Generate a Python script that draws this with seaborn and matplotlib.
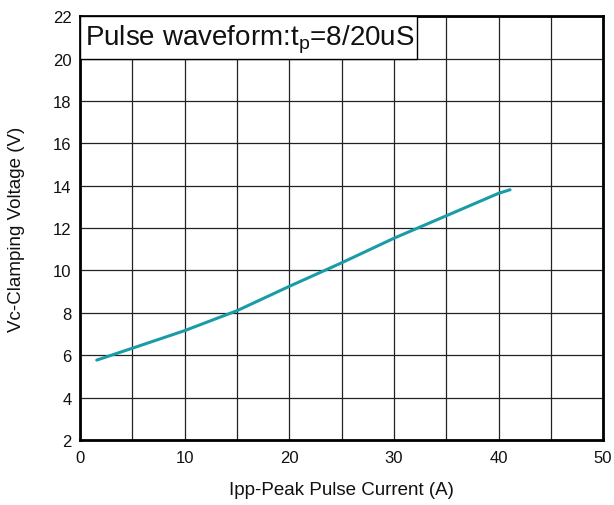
import matplotlib
matplotlib.use("Agg")
import matplotlib.pyplot as plt
from matplotlib.patches import Rectangle
import seaborn as sns
import pandas as pd

ipp = [1.6, 5, 10, 15, 20, 25, 30, 35, 40, 41.1]
vc = [5.77, 6.33, 7.16, 8.10, 9.25, 10.36, 11.52, 12.58, 13.64, 13.81]

x_ticks = [0, 10, 20, 30, 40, 50]
y_ticks = [2, 4, 6, 8, 10, 12, 14, 16, 18, 20, 22]

sns.set_style("white")
plt.rcParams['font.family'] = ['Liberation Sans', 'DejaVu Sans']

df = pd.DataFrame({"Ipp": ipp, "Vc": vc})

fig = plt.figure(figsize=(6.14, 5.06), dpi=100)
ax = fig.add_axes([0.1303, 0.1285, 0.852, 0.8375])

sns.lineplot(data=df, x="Ipp", y="Vc", color="#1a9ca8", linewidth=2.2, ax=ax, zorder=3)

ax.set_xlim(0, 50)
ax.set_ylim(2, 22)
ax.set_xticks(range(0, 51, 5))
ax.set_xticklabels([str(t) if t in x_ticks else "" for t in range(0, 51, 5)])
ax.set_yticks(y_ticks)
ax.tick_params(length=0, labelsize=12, colors="#111111")
ax.tick_params(axis="x", pad=7.5)
ax.tick_params(axis="y", pad=6)
ax.grid(True, color="#222222", linewidth=0.9)

for s in ax.spines.values():
    s.set_visible(True)
    s.set_color("black")
    s.set_linewidth(2)

ax.set_xlabel("Ipp-Peak Pulse Current (A)", fontsize=13.5, labelpad=11, color="#111111")
ax.set_ylabel("Vc-Clamping Voltage (V)", fontsize=13.5, labelpad=20, color="#111111")

ax.add_patch(Rectangle((0, 0.9), 0.644, 0.1, transform=ax.transAxes,
                       facecolor="white", edgecolor="black", linewidth=1, zorder=4))
ax.text(0.01, 0.948, "Pulse waveform:t$_\\mathregular{p}$=8/20uS", transform=ax.transAxes,
        fontsize=20, va="center", ha="left", zorder=5, color="#111111")

fig.savefig("out.png", dpi=100)
